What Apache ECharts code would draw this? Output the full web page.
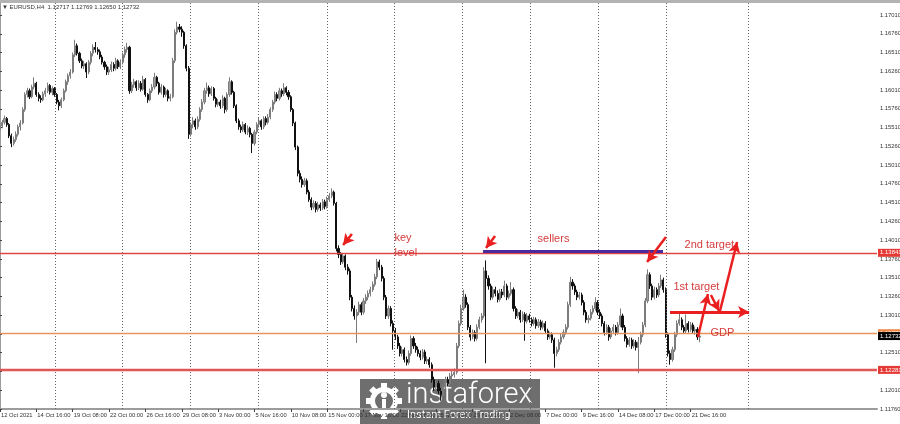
<!DOCTYPE html>
<html><head><meta charset="utf-8">
<script src="https://cdn.jsdelivr.net/npm/echarts@6/dist/echarts.min.js"></script>
<style>html,body{margin:0;padding:0;background:#fff}#c{width:900px;height:424px}</style>
</head><body><div id="c"></div>
<script>
// ---------- data ----------
const symbolInfo = '\u25BC EURUSD,H4  1.12717 1.12769 1.12650 1.12732';
const tickLabels = ['12 Oct 2021','14 Oct 16:00','19 Oct 08:00','22 Oct 00:00','26 Oct 16:00','29 Oct 08:00',
  '3 Nov 00:00','5 Nov 16:00','10 Nov 08:00','15 Nov 00:00','17 Nov 16:00','22 Nov 08:00','25 Nov 00:00',
  '29 Nov 16:00','2 Dec 08:00','7 Dec 00:00','9 Dec 16:00','14 Dec 08:00','17 Dec 00:00','21 Dec 16:00'];
const labelStep = 16;      // bars between time labels
const barSlots = 387;      // visible bar slots incl. empty future space
const priceTicks = {min: 1.1176, max: 1.1717, step: 0.0025};
// H4 candles: [open, close, low, high]
const ohlc = [
[1.1548,1.1553,1.1544,1.1556],[1.1553,1.1558,1.1550,1.1561],[1.1558,1.1563,1.1555,1.1567],[1.1563,1.1555,1.1552,1.1565],[1.1555,1.1540,1.1537,1.1557],[1.1540,1.1530,1.1525,1.1543],
[1.1530,1.1535,1.1527,1.1539],[1.1535,1.1542,1.1532,1.1546],[1.1542,1.1552,1.1539,1.1555],[1.1552,1.1557,1.1547,1.1561],[1.1557,1.1575,1.1555,1.1578],[1.1575,1.1595,1.1572,1.1598],
[1.1595,1.1600,1.1591,1.1604],[1.1600,1.1592,1.1589,1.1603],[1.1592,1.1605,1.1590,1.1608],[1.1605,1.1610,1.1602,1.1618],[1.1610,1.1595,1.1592,1.1612],[1.1595,1.1590,1.1586,1.1598],
[1.1590,1.1588,1.1584,1.1594],[1.1588,1.1596,1.1586,1.1599],[1.1596,1.1600,1.1592,1.1604],[1.1600,1.1607,1.1597,1.1611],[1.1607,1.1598,1.1595,1.1609],[1.1598,1.1603,1.1594,1.1606],
[1.1603,1.1595,1.1592,1.1605],[1.1595,1.1585,1.1582,1.1597],[1.1585,1.1580,1.1574,1.1588],[1.1580,1.1588,1.1577,1.1591],[1.1588,1.1600,1.1586,1.1603],[1.1600,1.1612,1.1598,1.1615],
[1.1612,1.1620,1.1608,1.1623],[1.1620,1.1625,1.1616,1.1629],[1.1625,1.1648,1.1623,1.1651],[1.1648,1.1660,1.1645,1.1668],[1.1660,1.1650,1.1647,1.1663],[1.1650,1.1640,1.1637,1.1652],
[1.1640,1.1633,1.1630,1.1643],[1.1633,1.1636,1.1629,1.1640],[1.1636,1.1625,1.1617,1.1638],[1.1625,1.1638,1.1622,1.1641],[1.1638,1.1650,1.1635,1.1653],[1.1650,1.1658,1.1646,1.1662],
[1.1658,1.1655,1.1651,1.1665],[1.1655,1.1652,1.1648,1.1658],[1.1652,1.1645,1.1642,1.1655],[1.1645,1.1638,1.1635,1.1648],[1.1638,1.1632,1.1628,1.1640],[1.1632,1.1625,1.1621,1.1635],
[1.1625,1.1628,1.1621,1.1632],[1.1628,1.1635,1.1625,1.1639],[1.1635,1.1630,1.1626,1.1638],[1.1630,1.1640,1.1627,1.1644],[1.1640,1.1632,1.1629,1.1642],[1.1632,1.1638,1.1629,1.1642],
[1.1638,1.1648,1.1635,1.1651],[1.1648,1.1655,1.1644,1.1659],[1.1655,1.1658,1.1651,1.1664],[1.1658,1.1600,1.1596,1.1660],[1.1600,1.1608,1.1597,1.1612],[1.1608,1.1612,1.1604,1.1616],
[1.1612,1.1604,1.1600,1.1614],[1.1604,1.1610,1.1601,1.1614],[1.1610,1.1602,1.1599,1.1613],[1.1602,1.1615,1.1600,1.1620],[1.1615,1.1595,1.1592,1.1617],[1.1595,1.1588,1.1584,1.1597],
[1.1588,1.1600,1.1586,1.1603],[1.1600,1.1605,1.1597,1.1609],[1.1605,1.1618,1.1602,1.1624],[1.1618,1.1610,1.1606,1.1620],[1.1610,1.1598,1.1595,1.1612],[1.1598,1.1605,1.1595,1.1609],
[1.1605,1.1595,1.1591,1.1607],[1.1595,1.1600,1.1592,1.1604],[1.1600,1.1590,1.1586,1.1602],[1.1590,1.1592,1.1586,1.1596],[1.1592,1.1640,1.1590,1.1644],[1.1640,1.1678,1.1637,1.1682],
[1.1678,1.1685,1.1675,1.1692],[1.1685,1.1682,1.1678,1.1689],[1.1682,1.1678,1.1672,1.1686],[1.1678,1.1660,1.1656,1.1680],[1.1660,1.1630,1.1626,1.1662],[1.1630,1.1542,1.1536,1.1633],
[1.1542,1.1555,1.1539,1.1558],[1.1555,1.1560,1.1550,1.1565],[1.1560,1.1552,1.1548,1.1563],[1.1552,1.1562,1.1549,1.1566],[1.1562,1.1575,1.1559,1.1578],[1.1575,1.1585,1.1572,1.1589],
[1.1585,1.1600,1.1582,1.1604],[1.1600,1.1604,1.1596,1.1611],[1.1604,1.1596,1.1592,1.1607],[1.1596,1.1603,1.1593,1.1606],[1.1603,1.1590,1.1587,1.1605],[1.1590,1.1582,1.1578,1.1592],
[1.1582,1.1585,1.1579,1.1589],[1.1585,1.1580,1.1576,1.1588],[1.1580,1.1590,1.1577,1.1594],[1.1590,1.1575,1.1570,1.1592],[1.1575,1.1595,1.1572,1.1598],[1.1595,1.1612,1.1592,1.1618],
[1.1612,1.1598,1.1595,1.1614],[1.1598,1.1580,1.1577,1.1600],[1.1580,1.1560,1.1557,1.1582],[1.1560,1.1552,1.1548,1.1563],[1.1552,1.1548,1.1544,1.1555],[1.1548,1.1555,1.1545,1.1559],
[1.1555,1.1545,1.1542,1.1557],[1.1545,1.1550,1.1541,1.1554],[1.1550,1.1542,1.1538,1.1552],[1.1542,1.1530,1.1517,1.1544],[1.1530,1.1545,1.1527,1.1548],[1.1545,1.1555,1.1542,1.1558],
[1.1555,1.1560,1.1551,1.1564],[1.1560,1.1552,1.1548,1.1562],[1.1552,1.1563,1.1549,1.1566],[1.1563,1.1558,1.1554,1.1566],[1.1558,1.1565,1.1555,1.1569],[1.1565,1.1575,1.1562,1.1578],
[1.1575,1.1585,1.1572,1.1588],[1.1585,1.1595,1.1582,1.1599],[1.1595,1.1590,1.1586,1.1598],[1.1590,1.1600,1.1587,1.1604],[1.1600,1.1596,1.1592,1.1603],[1.1596,1.1604,1.1593,1.1610],
[1.1604,1.1598,1.1594,1.1606],[1.1598,1.1592,1.1588,1.1601],[1.1592,1.1575,1.1572,1.1594],[1.1575,1.1557,1.1553,1.1577],[1.1557,1.1525,1.1521,1.1559],[1.1525,1.1490,1.1486,1.1527],
[1.1490,1.1482,1.1478,1.1494],[1.1482,1.1475,1.1471,1.1486],[1.1475,1.1480,1.1472,1.1484],[1.1480,1.1465,1.1462,1.1483],[1.1465,1.1455,1.1452,1.1468],[1.1455,1.1445,1.1441,1.1458],
[1.1445,1.1450,1.1442,1.1454],[1.1450,1.1442,1.1438,1.1453],[1.1442,1.1448,1.1439,1.1452],[1.1448,1.1444,1.1440,1.1451],[1.1444,1.1452,1.1441,1.1456],[1.1452,1.1446,1.1442,1.1455],
[1.1446,1.1455,1.1443,1.1459],[1.1455,1.1460,1.1452,1.1464],[1.1460,1.1465,1.1457,1.1470],[1.1465,1.1450,1.1447,1.1467],[1.1450,1.1390,1.1386,1.1452],[1.1390,1.1382,1.1377,1.1394],
[1.1382,1.1372,1.1368,1.1385],[1.1372,1.1380,1.1369,1.1384],[1.1380,1.1365,1.1361,1.1382],[1.1365,1.1360,1.1355,1.1369],[1.1360,1.1325,1.1321,1.1363],[1.1325,1.1310,1.1306,1.1328],
[1.1310,1.1300,1.1295,1.1314],[1.1300,1.1305,1.1264,1.1309],[1.1305,1.1315,1.1301,1.1319],[1.1315,1.1305,1.1301,1.1318],[1.1305,1.1320,1.1302,1.1324],[1.1320,1.1325,1.1316,1.1329],
[1.1325,1.1330,1.1321,1.1334],[1.1330,1.1335,1.1326,1.1339],[1.1335,1.1342,1.1332,1.1346],[1.1342,1.1352,1.1339,1.1356],[1.1352,1.1372,1.1349,1.1376],[1.1372,1.1365,1.1361,1.1375],
[1.1365,1.1350,1.1346,1.1368],[1.1350,1.1325,1.1321,1.1353],[1.1325,1.1300,1.1296,1.1328],[1.1300,1.1310,1.1296,1.1314],[1.1310,1.1290,1.1286,1.1313],[1.1290,1.1280,1.1255,1.1294],
[1.1280,1.1272,1.1268,1.1284],[1.1272,1.1260,1.1256,1.1275],[1.1260,1.1250,1.1246,1.1264],[1.1250,1.1255,1.1246,1.1259],[1.1255,1.1242,1.1238,1.1258],[1.1242,1.1238,1.1234,1.1246],
[1.1238,1.1250,1.1235,1.1254],[1.1250,1.1270,1.1247,1.1274],[1.1270,1.1260,1.1256,1.1273],[1.1260,1.1255,1.1251,1.1264],[1.1255,1.1250,1.1246,1.1259],[1.1250,1.1245,1.1241,1.1254],
[1.1245,1.1252,1.1242,1.1256],[1.1252,1.1240,1.1236,1.1255],[1.1240,1.1242,1.1236,1.1246],[1.1242,1.1235,1.1231,1.1245],[1.1235,1.1215,1.1211,1.1238],[1.1215,1.1205,1.1200,1.1219],
[1.1205,1.1210,1.1201,1.1214],[1.1210,1.1200,1.1196,1.1214],[1.1200,1.1195,1.1187,1.1204],[1.1195,1.1205,1.1192,1.1209],[1.1205,1.1215,1.1202,1.1219],[1.1215,1.1210,1.1206,1.1219],
[1.1210,1.1220,1.1207,1.1224],[1.1220,1.1222,1.1216,1.1227],[1.1222,1.1225,1.1218,1.1230],[1.1225,1.1260,1.1222,1.1264],[1.1260,1.1290,1.1257,1.1294],[1.1290,1.1310,1.1287,1.1315],
[1.1310,1.1325,1.1307,1.1335],[1.1325,1.1315,1.1311,1.1329],[1.1315,1.1285,1.1281,1.1318],[1.1285,1.1272,1.1267,1.1288],[1.1272,1.1278,1.1269,1.1282],[1.1278,1.1270,1.1266,1.1281],
[1.1270,1.1285,1.1267,1.1289],[1.1285,1.1295,1.1282,1.1299],[1.1295,1.1300,1.1291,1.1304],[1.1300,1.1360,1.1297,1.1365],[1.1360,1.1350,1.1237,1.1374],[1.1350,1.1340,1.1335,1.1354],
[1.1340,1.1325,1.1321,1.1343],[1.1325,1.1335,1.1322,1.1339],[1.1335,1.1330,1.1326,1.1339],[1.1330,1.1322,1.1318,1.1334],[1.1322,1.1332,1.1319,1.1336],[1.1332,1.1328,1.1324,1.1336],
[1.1328,1.1340,1.1325,1.1347],[1.1340,1.1325,1.1321,1.1343],[1.1325,1.1330,1.1322,1.1334],[1.1330,1.1335,1.1327,1.1345],[1.1335,1.1310,1.1306,1.1338],[1.1310,1.1300,1.1296,1.1313],
[1.1300,1.1305,1.1297,1.1309],[1.1305,1.1295,1.1291,1.1308],[1.1295,1.1302,1.1292,1.1306],[1.1302,1.1293,1.1267,1.1305],[1.1293,1.1300,1.1290,1.1304],[1.1300,1.1295,1.1291,1.1303],
[1.1295,1.1290,1.1286,1.1298],[1.1290,1.1295,1.1287,1.1299],[1.1295,1.1287,1.1283,1.1298],[1.1287,1.1292,1.1284,1.1296],[1.1292,1.1285,1.1281,1.1295],[1.1285,1.1290,1.1282,1.1294],
[1.1290,1.1280,1.1276,1.1293],[1.1280,1.1272,1.1268,1.1283],[1.1272,1.1275,1.1269,1.1279],[1.1275,1.1268,1.1264,1.1278],[1.1268,1.1250,1.1231,1.1271],[1.1250,1.1255,1.1246,1.1259],
[1.1255,1.1265,1.1252,1.1269],[1.1265,1.1272,1.1262,1.1276],[1.1272,1.1278,1.1269,1.1282],[1.1278,1.1285,1.1275,1.1289],[1.1285,1.1315,1.1282,1.1319],[1.1315,1.1345,1.1312,1.1352],
[1.1345,1.1340,1.1335,1.1349],[1.1340,1.1332,1.1328,1.1343],[1.1332,1.1325,1.1321,1.1335],[1.1325,1.1328,1.1322,1.1332],[1.1328,1.1318,1.1314,1.1331],[1.1318,1.1305,1.1301,1.1321],
[1.1305,1.1295,1.1291,1.1308],[1.1295,1.1297,1.1290,1.1301],[1.1297,1.1305,1.1294,1.1309],[1.1305,1.1310,1.1302,1.1314],[1.1310,1.1318,1.1307,1.1325],[1.1318,1.1305,1.1301,1.1321],
[1.1305,1.1300,1.1296,1.1309],[1.1300,1.1290,1.1286,1.1303],[1.1290,1.1278,1.1274,1.1293],[1.1278,1.1285,1.1275,1.1289],[1.1285,1.1272,1.1267,1.1288],[1.1272,1.1280,1.1269,1.1284],
[1.1280,1.1285,1.1277,1.1289],[1.1285,1.1278,1.1274,1.1288],[1.1278,1.1288,1.1275,1.1292],[1.1288,1.1300,1.1285,1.1310],[1.1300,1.1285,1.1281,1.1303],[1.1285,1.1270,1.1266,1.1288],
[1.1270,1.1262,1.1258,1.1273],[1.1262,1.1268,1.1259,1.1272],[1.1268,1.1260,1.1256,1.1271],[1.1260,1.1265,1.1257,1.1269],[1.1265,1.1258,1.1254,1.1268],[1.1258,1.1265,1.1224,1.1272],
[1.1265,1.1275,1.1262,1.1279],[1.1275,1.1288,1.1272,1.1292],[1.1288,1.1320,1.1285,1.1324],[1.1320,1.1355,1.1317,1.1362],[1.1355,1.1340,1.1336,1.1358],[1.1340,1.1325,1.1321,1.1343],
[1.1325,1.1335,1.1322,1.1339],[1.1335,1.1328,1.1324,1.1338],[1.1328,1.1340,1.1325,1.1344],[1.1340,1.1348,1.1337,1.1355],[1.1348,1.1335,1.1331,1.1351],[1.1335,1.1275,1.1271,1.1338],
[1.1275,1.1250,1.1246,1.1278],[1.1250,1.1242,1.1235,1.1254],[1.1242,1.1255,1.1239,1.1259],[1.1255,1.1275,1.1252,1.1279],[1.1275,1.1290,1.1272,1.1294],[1.1290,1.1295,1.1287,1.1303],
[1.1295,1.1285,1.1281,1.1298],[1.1285,1.1280,1.1276,1.1288],[1.1280,1.1290,1.1277,1.1302],[1.1290,1.1282,1.1278,1.1293],[1.1282,1.1288,1.1279,1.1292],[1.1288,1.1280,1.1276,1.1291],
[1.1280,1.1282,1.1275,1.1286],[1.1282,1.1272,1.1268,1.1285],[1.12717,1.12732,1.12650,1.12769]
];
// chart objects (bar position, price)
const verticalGridBars = [24.2, 53.7, 83.6, 113.6, 143.9, 173.4, 203.3, 233.3, 263.2, 293.1, 329.2];
const levelLines = [
  {price: 1.13841, color: '#e04646', width: 1.3, tag: '#e53935'},
  {price: 1.12770, color: '#e8925c', width: 1.4, tag: '#f08a4b'},
  {price: 1.12281, color: '#e05555', width: 2.4, tag: '#e53935'}
];
const lastPrice = 1.12732;
const sellersLine = {from: 212.6, to: 291.8, price: 1.13858};
const arrows = [
  {from: [154.9, 1.14092], to: [151.0, 1.13945]},
  {from: [217.9, 1.14065], to: [213.9, 1.13905]},
  {from: [293.1, 1.14052], to: [284.8, 1.13719]},
  {from: [294.9, 1.13053], to: [329.7, 1.13053], width: 3},
  {from: [307.2, 1.12720], to: [311.6, 1.13292]},
  {from: [312.9, 1.13279], to: [316.5, 1.13066]},
  {from: [316.9, 1.13066], to: [324.4, 1.13985]}
];
const notes = [
  {text: 'key\nlevel', bar: 173.4, price: 1.13939},
  {text: 'sellers', bar: 236.4, price: 1.14025},
  {text: '2nd target', bar: 301.1, price: 1.13945},
  {text: '1st target', bar: 296.2, price: 1.13386},
  {text: 'GDP', bar: 312.5, price: 1.12773}
];

// ---------- chart ----------
const FONT = '"Liberation Sans", Arial, sans-serif';
const cats = Array.from({length: barSlots}, (_, i) => String(i));
const showTick = i => i % labelStep === 0 && i / labelStep < tickLabels.length;
const tagLabel = (bg, fg) => ({show: true, position: 'end', distance: 1, formatter: p => Number(p.value).toFixed(5),
  backgroundColor: bg, color: fg || '#fff', fontSize: 6, fontFamily: FONT, padding: [1, 2, 1, 2], lineHeight: 6});

const chart = echarts.init(document.getElementById('c'), null, {renderer: 'canvas'});
chart.setOption({
  animation: false,
  backgroundColor: '#ffffff',
  grid: {left: 0, right: 23, top: 3, bottom: 15, containLabel: false, outerBoundsMode: 'none'},
  xAxis: [{
    type: 'category', data: cats, boundaryGap: false,
    axisLine: {lineStyle: {color: '#9c9c9c', width: 2}},
    axisTick: {show: true, interval: (i) => showTick(i), length: 3, lineStyle: {color: '#444'}},
    axisLabel: {interval: (i) => showTick(i), showMinLabel: true, formatter: (v, i) => tickLabels[i / labelStep] || '',
      align: 'left', margin: 3, fontSize: 5.8, fontFamily: FONT, color: '#333', padding: [0, 0, 0, 1]},
    splitLine: {show: false}
  }, {
    type: 'value', min: 0, max: barSlots - 1, show: false
  }],
  yAxis: [{
    type: 'value', position: 'right', min: priceTicks.min, max: priceTicks.max, interval: priceTicks.step,
    axisLine: {show: true, lineStyle: {color: '#9c9c9c', width: 2}},
    axisTick: {show: true, length: 2, lineStyle: {color: '#444'}},
    axisLabel: {showMaxLabel: false, margin: 3, fontSize: 5.8, fontFamily: FONT, color: '#333',
      formatter: v => { const k = (v - priceTicks.min) / priceTicks.step; return Math.abs(k - Math.round(k)) < 1e-6 ? v.toFixed(5) : ''; }},
    splitLine: {show: false}
  }],
  series: [
    {
      type: 'line', xAxisIndex: 1, data: [], silent: true, z: 1,
      markLine: {silent: true, symbol: ['none', 'none'], label: {show: false}, precision: 5,
        lineStyle: {color: '#666', width: 1, type: [1, 2]},
        data: verticalGridBars.map(b => ({xAxis: b}))}
    },
    {
      type: 'candlestick', xAxisIndex: 0, data: ohlc, z: 2, barWidth: 1.6,
      itemStyle: {color: '#9c9c9c', color0: '#111111', borderColor: '#7c7c7c', borderColor0: '#111111', borderWidth: 1}
    },
    {
      type: 'line', xAxisIndex: 1, data: [], silent: true, z: 3,
      markLine: {silent: true, symbol: ['none', 'none'], precision: 5,
        data: levelLines.map(l => ({yAxis: l.price, lineStyle: {color: l.color, width: l.width, type: 'solid', opacity: 1}, label: tagLabel(l.tag)}))}
    },
    {
      type: 'line', xAxisIndex: 1, data: [], silent: true, z: 4,
      markLine: {silent: true, symbol: ['none', 'none'], precision: 5,
        data: [{yAxis: lastPrice, lineStyle: {color: 'rgba(0,0,0,0)', width: 0}, label: tagLabel('#000000')}]}
    },
    {
      type: 'line', xAxisIndex: 1, data: [], silent: true, z: 5,
      markLine: {silent: true, symbolSize: [9, 11], label: {show: false}, precision: 5,
        data: [
          [{coord: [sellersLine.from, sellersLine.price], symbol: 'none', lineStyle: {color: '#4b2a9e', width: 3, type: 'solid'}},
           {coord: [sellersLine.to, sellersLine.price], symbol: 'none'}]
        ].concat(arrows.map(a => [
          {coord: a.from, symbol: 'none', lineStyle: {color: '#ea1f1f', width: a.width || 2.5, type: 'solid'}},
          {coord: a.to, symbol: 'arrow'}
        ]))},
      markPoint: {silent: true, symbol: 'rect', symbolSize: 1, itemStyle: {color: 'rgba(0,0,0,0)'},
        label: {show: true, position: 'right', distance: 0, formatter: '{b}',
          color: '#d43c3c', fontSize: 11, fontFamily: FONT, lineHeight: 15},
        data: notes.map(n => ({name: n.text, coord: [n.bar, n.price]}))}
    }
  ],
  graphic: [
    {type: 'rect', z: 100, shape: {x: 0, y: 0, width: 900, height: 3}, style: {fill: '#b3b3b3'}},
    {type: 'text', z: 100, style: {text: symbolInfo, x: 2, y: 7, verticalAlign: 'middle', font: '6px ' + FONT, fill: '#333'}},
    {type: 'group', z: 100, children: [
      {type: 'rect', shape: {x: 360, y: 379, width: 180, height: 45}, style: {fill: '#6e6e6e'}},
      {type: 'circle', shape: {cx: 384, cy: 401, r: 14}, style: {fill: '#fff'}},
      ...[0,1,2,3,4,5,6,7].map(k => ({type: 'rect', x: 384, y: 401, rotation: k * Math.PI / 4,
        shape: {x: -3, y: -18, width: 6, height: 6}, style: {fill: '#fff'}})),
      {type: 'circle', shape: {cx: 384, cy: 401, r: 9}, style: {fill: '#6e6e6e'}},
      {type: 'circle', shape: {cx: 384, cy: 395, r: 3}, style: {fill: '#fff'}},
      {type: 'rect', shape: {x: 382, y: 399, width: 4, height: 12}, style: {fill: '#fff'}},
      {type: 'text', style: {text: 'instaforex', x: 406, y: 396, verticalAlign: 'middle', font: '300 29px Roboto, sans-serif', fill: '#fff'}},
      {type: 'text', style: {text: 'Instant Forex Trading', x: 407, y: 415, verticalAlign: 'middle', font: '11px Roboto, sans-serif', fill: '#fff'}}
    ]}
  ]
});
</script></body></html>
